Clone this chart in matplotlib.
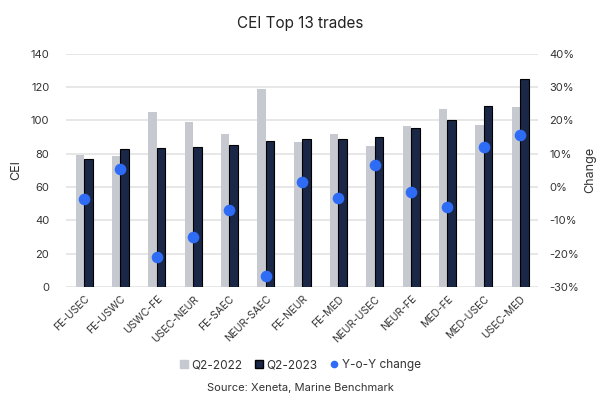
import matplotlib.pyplot as plt
import numpy as np
from matplotlib.lines import Line2D
from matplotlib.ticker import FuncFormatter

plt.rcParams['font.family'] = ['Inter', 'DejaVu Sans']

trades = ['FE-USEC', 'FE-USWC', 'USWC-FE', 'USEC-NEUR', 'FE-SAEC', 'NEUR-SAEC', 'FE-NEUR',
          'FE-MED', 'NEUR-USEC', 'NEUR-FE', 'MED-FE', 'MED-USEC', 'USEC-MED']
q2_2022 = [79.4, 78.6, 105.3, 99.3, 91.9, 119.0, 87.3, 91.9, 84.7, 96.9, 106.7, 97.3, 108.1]
q2_2023 = [76.6, 82.8, 83.3, 84.2, 85.3, 87.5, 88.7, 88.7, 90.3, 95.7, 100.3, 108.7, 125.0]
yoy = [-3.5, 5.4, -20.9, -15.0, -6.9, -26.7, 1.6, -3.2, 6.6, -1.4, -5.9, 11.9, 15.6]

grey = '#c6c9d0'
navy = '#1b2747'
blue = '#2f6cf6'
txt = '#333333'

fig = plt.figure(figsize=(6, 3.99), dpi=100)
ax = fig.add_axes([0.11, 0.281, 0.787, 0.584])
ax2 = ax.twinx()

x = np.arange(len(trades))
w = 0.235
ax.bar(x - w / 2, q2_2022, width=w, color=grey, zorder=2)
ax.bar(x + w / 2, q2_2023, width=w, color=navy, edgecolor='black', linewidth=0.8, zorder=2)
ax2.scatter(x, yoy, s=70, color=blue, zorder=3, linewidths=0)

ax.set_xlim(-0.5, 12.5)
ax.set_ylim(0, 140)
ax.set_yticks(range(0, 141, 20))
ax2.set_ylim(-30, 40)
ax2.set_yticks(range(-30, 41, 10))
ax2.yaxis.set_major_formatter(FuncFormatter(lambda v, p: '%d%%' % v))

ax.grid(axis='y', color='#e3e3e3', linewidth=1.2, zorder=0)
for a in (ax, ax2):
    for s in a.spines.values():
        s.set_visible(False)
    a.tick_params(length=0, labelsize=8, colors=txt)
ax.tick_params(axis='y', pad=12)
ax2.tick_params(axis='y', pad=8)

ax.set_xticks(x)
ax.set_xticklabels(trades, rotation=45, ha='right', rotation_mode='anchor', fontsize=7.5, color=txt)
ax.tick_params(axis='x', pad=5)

ax.set_ylabel('CEI', fontsize=9, color=txt, labelpad=6)
ax2.set_ylabel('Change', fontsize=9, color=txt, labelpad=4)

fig.text(0.5, 0.942, 'CEI Top 13 trades', ha='center', va='center', fontsize=11, color='#222222')

handles = [Line2D([], [], marker='s', linestyle='', color=grey, markersize=6),
           Line2D([], [], marker='s', linestyle='', color=navy, markeredgecolor='black', markersize=6),
           Line2D([], [], marker='o', linestyle='', color=blue, markersize=4.5)]
fig.legend(handles, ['Q2-2022', 'Q2-2023', 'Y-o-Y change'], loc='center', bbox_to_anchor=(0.5, 0.085),
           ncol=3, frameon=False, fontsize=8.5, handlelength=0.8, handletextpad=0.25,
           columnspacing=1.0, labelcolor=txt)
fig.text(0.5, 0.027, 'Source: Xeneta, Marine Benchmark', ha='center', va='center', fontsize=8, color=txt)

fig.savefig('out.png')
